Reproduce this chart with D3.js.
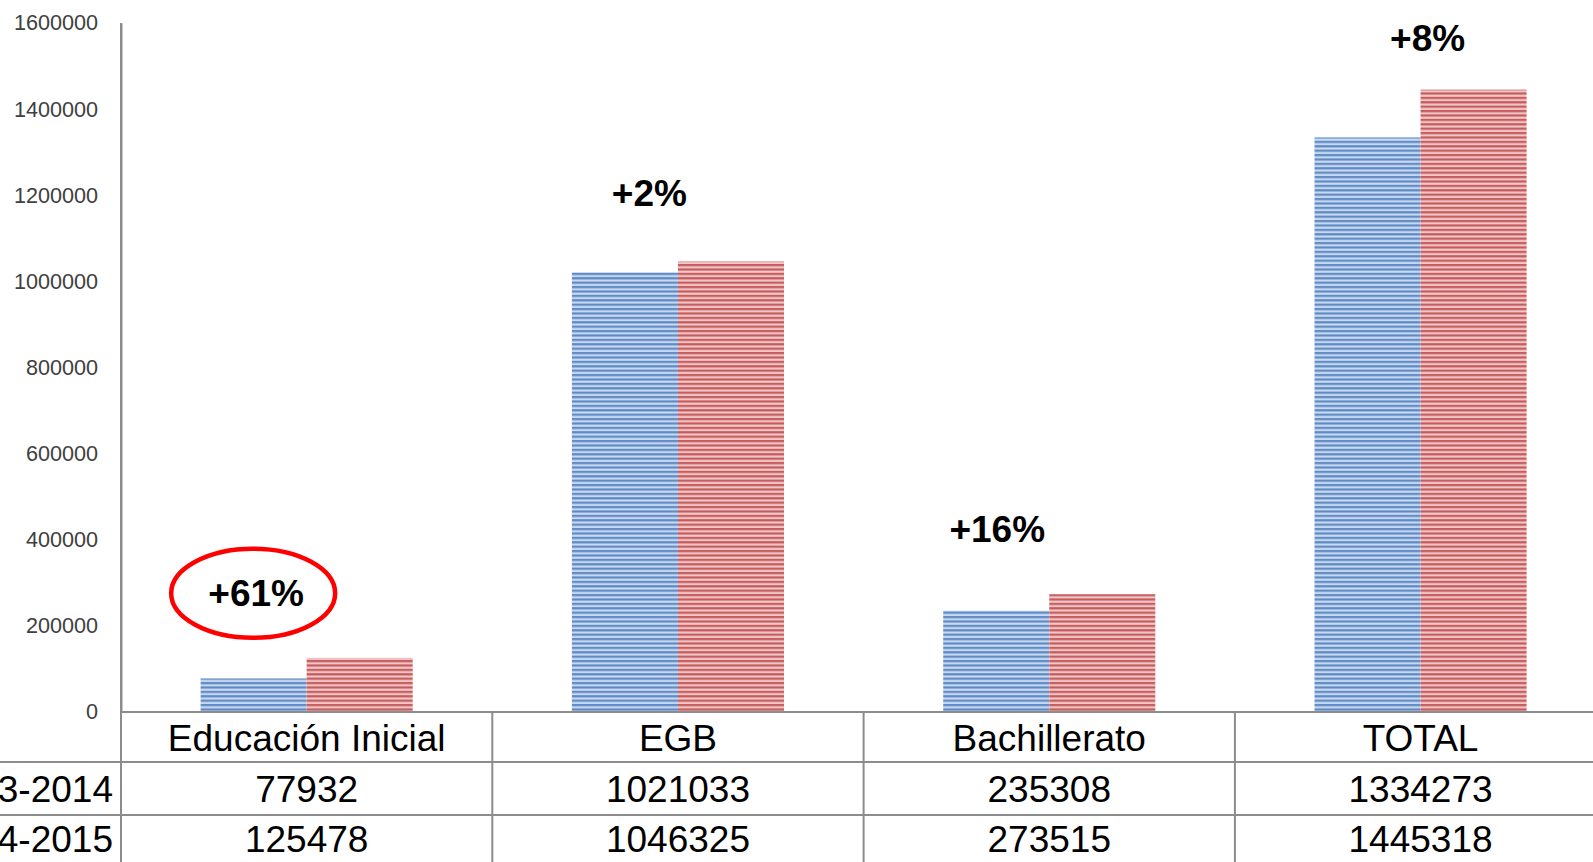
<!DOCTYPE html>
<html><head><meta charset="utf-8">
<script src="https://cdn.jsdelivr.net/npm/d3@7"></script>
<style>html,body{margin:0;padding:0;background:#fff;overflow:hidden}</style>
</head><body><svg id="c" width="1593" height="862"></svg>
<script>
const categories = ["Educación Inicial", "EGB", "Bachillerato", "TOTAL"];
const seriesNames = ["2013-2014", "2014-2015"];
const values2013 = [77932, 1021033, 235308, 1334273];
const values2014 = [125478, 1046325, 273515, 1445318];
const yTicks = [0, 200000, 400000, 600000, 800000, 1000000, 1200000, 1400000, 1600000];
const changeLabels = ["+61%", "+2%", "+16%", "+8%"];
const changeLabelY = [278000, 1207000, 427000, 1566000];
const changeLabelDx = [-0.136, -0.077, -0.14, 0.019];
const highlighted = [true, false, false, false];

(function () {
const svg = d3.select("#c");
const W = 1593, H = 862;
const mLeft = 121, colW = 371.3, mTop = 23, base = 712;
const rowLines = [712, 762, 815];

const x = d3.scaleBand().domain(categories).range([mLeft, mLeft + colW * categories.length]).padding(0);
const xs = d3.scaleBand().domain(seriesNames).range([colW * 0.2144, colW * 0.7856]).padding(0);
const y = d3.scaleLinear().domain([0, 1600000]).range([base, mTop]);

// patterns
const defs = svg.append("defs");
function stripe(id, dark, light) {
  const p = defs.append("pattern").attr("id", id).attr("patternUnits", "userSpaceOnUse")
    .attr("width", 8).attr("height", 4.4);
  p.append("rect").attr("width", 8).attr("height", 4.4).attr("fill", light);
  p.append("rect").attr("y", 0).attr("width", 8).attr("height", 2.2).attr("fill", dark);
}
stripe("pb", "#5f8bc6", "#c8d8ef");
stripe("pr", "#c65c5e", "#f0c6c6");
const fills = {"2013-2014": "url(#pb)", "2014-2015": "url(#pr)"};

// axis
const yAxis = d3.axisLeft(y).tickValues(yTicks).tickFormat(d3.format("d")).tickSize(0).tickPadding(23);
const ag = svg.append("g").attr("transform", `translate(${mLeft},0)`).call(yAxis);
ag.select(".domain").attr("stroke", "#8c8c8c").attr("stroke-width", 2);
ag.selectAll("text").attr("font-family", "Liberation Sans, Arial, sans-serif").attr("font-size", 21.6).attr("fill", "#404040");

// bars
const data = [];
categories.forEach((c, i) => {
  data.push({cat: c, s: seriesNames[0], v: values2013[i]});
  data.push({cat: c, s: seriesNames[1], v: values2014[i]});
});
svg.append("g").selectAll("rect").data(data).join("rect")
  .attr("x", d => x(d.cat) + xs(d.s))
  .attr("width", xs.bandwidth())
  .attr("y", d => y(d.v))
  .attr("height", d => y(0) - y(d.v))
  .attr("fill", d => fills[d.s]);

// table lines
const tg = svg.append("g").attr("stroke", "#8c8c8c").attr("stroke-width", 2);
rowLines.forEach(r => tg.append("line").attr("x1", mLeft).attr("x2", W).attr("y1", r).attr("y2", r));
tg.append("line").attr("x1", 0).attr("x2", mLeft).attr("y1", rowLines[1]).attr("y2", rowLines[1]);
tg.append("line").attr("x1", 0).attr("x2", mLeft).attr("y1", rowLines[2]).attr("y2", rowLines[2]);
categories.forEach(c => tg.append("line").attr("x1", x(c)).attr("x2", x(c)).attr("y1", base).attr("y2", H));
tg.append("line").attr("x1", mLeft).attr("x2", mLeft).attr("y1", mTop).attr("y2", H);

const font = "Liberation Sans, Arial, sans-serif";
const tt = svg.append("g").attr("font-family", font).attr("font-size", 37).attr("fill", "#000");
categories.forEach((c, i) => {
  const cx = x(c) + x.bandwidth() / 2;
  tt.append("text").attr("x", cx).attr("y", 751).attr("text-anchor", "middle").text(c);
  tt.append("text").attr("x", cx).attr("y", 802).attr("text-anchor", "middle").text(values2013[i]);
  tt.append("text").attr("x", cx).attr("y", 852).attr("text-anchor", "middle").text(values2014[i]);
});
tt.append("text").attr("x", 113).attr("y", 802).attr("text-anchor", "end").text(seriesNames[0]);
tt.append("text").attr("x", 113).attr("y", 852).attr("text-anchor", "end").text(seriesNames[1]);

// change labels
const lg = svg.append("g");
categories.forEach((c, i) => {
  const cx = x(c) + x.bandwidth() / 2 + changeLabelDx[i] * colW;
  const cy = y(changeLabelY[i]);
  if (highlighted[i]) {
    lg.append("ellipse").attr("cx", cx - 3).attr("cy", cy + 1).attr("rx", 82).attr("ry", 44.5)
      .attr("fill", "none").attr("stroke", "#ff0000").attr("stroke-width", 4.5);
  }
  lg.append("text").attr("x", cx).attr("y", cy + 13.5).attr("text-anchor", "middle")
    .attr("font-family", font).attr("font-weight", "bold").attr("font-size", 37).attr("fill", "#000")
    .text(changeLabels[i]);
});
})();
</script></body></html>
